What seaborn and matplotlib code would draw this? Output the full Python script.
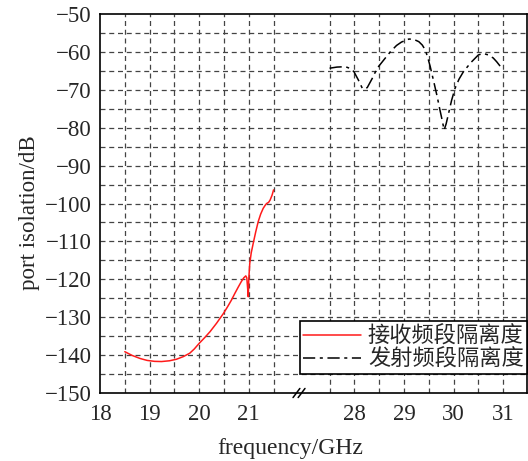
import numpy as np
import pandas as pd
import seaborn as sns
import matplotlib.pyplot as plt
from matplotlib.lines import Line2D

# ---- data ----
rx_freq = [18.5, 18.65, 18.81, 18.95, 19.1, 19.24, 19.4, 19.54, 19.68, 19.81, 19.9, 20.0, 20.11, 20.22, 20.35,
           20.49, 20.57, 20.65, 20.72, 20.79, 20.85, 20.9, 20.94, 20.96, 20.975, 20.99, 21.0, 21.02, 21.05,
           21.09, 21.14, 21.19, 21.24, 21.29, 21.33, 21.36, 21.4, 21.43, 21.47, 21.5]
rx_iso = [-139.1, -140.1, -140.9, -141.4, -141.65, -141.7, -141.5, -141.1, -140.4, -139.5, -138.4, -136.9, -135.4,
          -133.8, -131.6, -129.0, -127.3, -125.5, -123.7, -122.0, -120.6, -119.6, -119.1, -119.6, -122.0, -124.6,
          -120.0, -115.8, -113.0, -110.5, -107.5, -104.8, -102.8, -101.3, -100.5, -100.0, -99.7, -99.1, -97.8, -96.4]
tx_freq = [27.5, 27.65, 27.82, 27.92, 27.99, 28.08, 28.16, 28.21, 28.26, 28.36, 28.46, 28.6, 28.73, 28.85, 28.95,
           29.1, 29.2, 29.3, 29.37, 29.43, 29.48, 29.53, 29.6, 29.67, 29.72, 29.77, 29.81, 29.85, 29.9, 29.96,
           30.03, 30.11, 30.2, 30.35, 30.5, 30.6, 30.7, 30.8, 30.87, 30.93, 30.97]
tx_iso = [-64.3, -64.0, -63.9, -64.4, -65.2, -67.4, -69.6, -69.8, -69.4, -67.0, -64.3, -62.0, -59.9, -58.3, -57.4,
          -56.6, -56.7, -57.3, -58.2, -59.5, -61.5, -63.9, -67.8, -71.8, -75.0, -78.0, -80.6, -79.0, -76.2, -72.8,
          -69.6, -67.2, -65.2, -62.8, -60.8, -60.4, -60.8, -61.6, -62.6, -63.6, -64.8]
x_ticks = [18, 19, 20, 21, 28, 29, 30, 31]
y_ticks = list(range(-150, -40, 10))
labels = ["接收频段隔离度", "发射频段隔离度"]

# broken-axis mapping (21.5 .. 27.5 compressed into a short gap)
GAP_START, GAP_END, GAP_W = 21.5, 27.5, 1.13
def fx(x):
    x = np.asarray(x, dtype=float)
    return np.where(x <= GAP_START, x, x - GAP_END + GAP_START + GAP_W)

sns.set_theme(style="white")
plt.rcParams['font.family'] = ['Liberation Serif', 'Noto Sans CJK SC', 'DejaVu Sans']
plt.rcParams['axes.unicode_minus'] = True

fig = plt.figure(figsize=(5.28, 4.61), dpi=100)
ax = fig.add_axes([0.1894, 0.1475, 0.8086, 0.8221])

TX_DASH = (0, (8, 3, 2, 3))
rx = pd.DataFrame({"u": fx(rx_freq), "y": rx_iso})
tx = pd.DataFrame({"u": fx(tx_freq), "y": tx_iso})
sns.lineplot(data=rx, x="u", y="y", ax=ax, color="#ff1a1a", lw=1.1, sort=False, estimator=None)
sns.lineplot(data=tx, x="u", y="y", ax=ax, color="black", lw=1.1, sort=False, estimator=None,
             dashes=False, linestyle=TX_DASH)

umax = float(fx(31.48))
ax.set_xlim(18, umax)
ax.set_ylim(-150, -50)

# grid: every 0.5 GHz and 5 dB
vgrid = [v / 2 for v in range(37, 44)] + [v / 2 for v in range(55, 63)]
for g in fx(vgrid):
    ax.axvline(g, color="#444444", lw=0.9, ls=(0, (4, 3)), zorder=0)
for g in range(-145, -50, 5):
    ax.axhline(g, color="#444444", lw=0.9, ls=(0, (4, 3)), zorder=0)

ax.set_xticks(fx(x_ticks))
ax.set_xticklabels([str(t) for t in x_ticks], fontsize=16.5)
ax.set_yticks(y_ticks)
ax.set_yticklabels([f"\u2212{abs(t)}" for t in y_ticks], fontsize=16.5)
ax.tick_params(length=0, pad=6)
ax.tick_params(axis="x", pad=8)

for s in ax.spines.values():
    s.set_color("black")
    s.set_linewidth(1.2)

ax.set_xlabel("frequency/GHz", fontsize=17)
ax.set_ylabel("port isolation/dB", fontsize=16.5)
ax.xaxis.set_label_coords(0.445, -0.12)
ax.yaxis.set_label_coords(-0.14, 0.475)

# break marks on the bottom spine
bc = (GAP_START + GAP_W / 2 - 18) / (umax - 18)
for dx in (-0.012, 0.0):
    ax.plot([bc + dx - 0.008, bc + dx + 0.008], [-0.012, 0.012], transform=ax.transAxes,
            color="black", lw=1.1, clip_on=False)

handles = [Line2D([0], [0], color="#ff1a1a", lw=1.1),
           Line2D([0], [0], color="black", lw=1.1, linestyle=TX_DASH)]
leg = ax.legend(handles, labels, loc="lower right", bbox_to_anchor=(1.0, 0.05), frameon=True,
                fancybox=False, edgecolor="black", framealpha=1,
                prop={"family": ["Noto Sans CJK SC"], "size": 16},
                handlelength=2.6, handletextpad=0.3, borderpad=0.15, labelspacing=0.0, borderaxespad=0.0)
leg.get_frame().set_linewidth(1.2)

fig.savefig("out.png", dpi=100)
